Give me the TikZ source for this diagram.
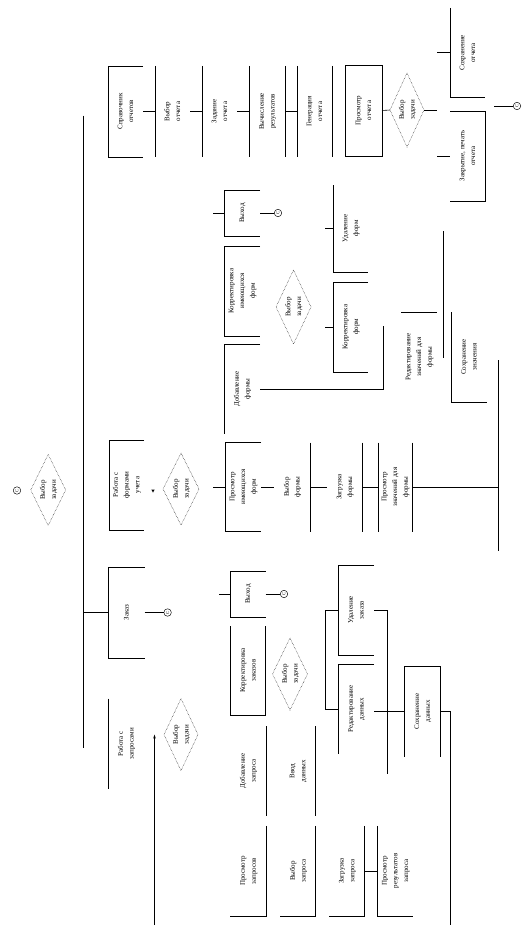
\documentclass[tikz,border=0pt]{standalone}
\usepackage{fontspec}
\setmainfont{Liberation Serif}
\usetikzlibrary{arrows.meta}
\newcommand\vt[1]{\rotatebox{90}{\begin{tabular}{@{}c@{}}#1\end{tabular}}}
\newcommand\fsz{\fontsize{7}{10.8}\selectfont}
\begin{document}
\begin{tikzpicture}[x=1pt, y=-1pt, line width=0.6pt,
  cell/.style 2 args={inner sep=0pt, outer sep=0pt, minimum width=#1pt, minimum height=#2pt, font=\fsz},
  dia/.style={densely dotted, line width=0.45pt},
  circ/.style={draw, circle, inner sep=0pt, minimum size=7.5pt, line width=0.45pt, font=\fontsize{4.5}{5}\selectfont}]
\fill[white] (0,0) rectangle (530,931);
\useasboundingbox (0,0) rectangle (530,931);

% trunk
\coordinate (tA) at (83,115.7);
\coordinate (tB) at (83,747.6);
\draw (tA) -- (tB);

% ---------------- top row: reports
\node[cell={35}{91}] (r1) at (125.5,111.5) {\vt{Справочник\\отчетов}};
\draw (r1.north east) -- (r1.north west) -- (r1.south west) -- (r1.south east);
\node[cell={35}{91}] (r2) at (172.5,111.5) {\vt{Выбор\\отчета}};
\draw (r2.north west) -- (r2.south west);
\draw (r1.east) -- (r2.west);
\node[cell={35}{91}] (r3) at (219.5,111.5) {\vt{Задание\\отчета}};
\draw (r3.north west) -- (r3.south west);
\draw (r2.east) -- (r3.west);
\node[cell={36}{91}] (r4) at (267,111.5) {\vt{Вычисление\\результатов}};
\draw (r4.north west) -- (r4.south west);
\draw (r4.north east) -- (r4.south east);
\draw (r3.east) -- (r4.west);
\node[cell={35}{91}] (r5) at (314.5,111.5) {\vt{Генерация\\отчета}};
\draw (r5.north west) -- (r5.south west);
\draw (r5.north east) -- (r5.south east);
\draw (r4.east) -- (r5.west);
\node[cell={37}{91}, draw] (r6) at (363.5,110.5) {\vt{Просмотр\\отчета}};
\node[cell={34}{74}] (d1) at (407,110) {\vt{Выбор\\задачи}};
\draw[dia] (d1.north) -- (d1.east) -- (d1.south) -- (d1.west) -- cycle;
\draw (r6.east) -- (d1.west);
\coordinate (j1) at (437,110);
\draw (d1.east) -- (j1);
\node[cell={35}{89.5}] (r7) at (467.5,52.75) {\vt{Сохранение\\отчета}};
\draw (r7.north west) -- (r7.south west) -- (r7.south east);
\draw (j1 |- r7.west) -- (r7.west);
\node[cell={35}{90}] (r8) at (467.5,156) {\vt{Закрытие, печать\\отчета}};
\draw (r8.north west) -- (r8.north east) -- (r8.south east) -- (r8.south west);
\draw (j1 |- r8.west) -- (r8.west);
\node[circ] (o1) at (517,106) {\rotatebox{90}{С}};
\coordinate (j3) at (494,106);
\draw (j3) -- (o1);

% ---------------- forms editing block
\node[cell={36}{46}] (x1) at (242,213) {\vt{Выход}};
\draw (x1.north east) -- (x1.north west) -- (x1.south west) -- (x1.south east);
\coordinate (k0) at (213,213);
\draw (k0) -- (x1.west);
\node[circ] (o2) at (278,213) {\rotatebox{90}{С}};
\draw (x1.east) -- (o2);
\node[cell={36}{90}] (x2) at (242,291) {\vt{Корректировка\\имеющихся\\форм}};
\draw (x2.north east) -- (x2.north west) -- (x2.south west) -- (x2.south east);
\node[cell={35}{74}] (d2) at (293.5,307) {\vt{Выбор\\задачи}};
\draw[dia] (d2.north) -- (d2.east) -- (d2.south) -- (d2.west) -- cycle;
\node[cell={36}{90}] (x3) at (242,389) {\vt{Добавление\\формы}};
\draw (x3.north east) -- (x3.north west) -- (x3.south west);
\coordinate (k1) at (383,326);
\draw (x3.east) -| (k1);
\node[cell={35}{87}] (x4) at (350.5,228.5) {\vt{Удаление\\форм}};
\draw (x4.north west) -- (x4.south west) -- (x4.south east);
\coordinate (k2) at (325,228.5);
\draw (k2) -- (x4.west);
\node[cell={35}{90}] (x5) at (350.5,327) {\vt{Корректировка\\форм}};
\draw (x5.north east) -- (x5.north west) -- (x5.south west) -- (x5.south east);
\coordinate (k3) at (325,327);
\draw (k3) -- (x5.west);
\node[cell={36}{90}] (x6) at (419,357) {\vt{Редактирование\\значений для\\формы}};
\draw (x6.north west) -- (x6.north east);
\coordinate (k4) at (443,231);
\coordinate (k5) at (443,358);
\draw (k4) -- (k5);
\node[cell={36}{90}] (x7) at (469,357) {\vt{Сохранение\\значения}};
\draw (x7.north west) -- (x7.south west) -- (x7.south east);
\coordinate (k6) at (498,360);
\coordinate (k7) at (498,551);
\draw (k6) -- (k7);

% ---------------- forms row
\node[cell={35}{90}] (m1) at (126.5,485) {\vt{Работа с\\формами\\учета}};
\draw (m1.north east) -- (m1.north west) -- (m1.south west) -- (m1.south east);
\fill (151.3,489.5) -- (154.7,489.5) -- (153,492.5) -- cycle;
\node[cell={36}{72}] (d3) at (181,489) {\vt{Выбор\\задачи}};
\draw[dia] (d3.north) -- (d3.east) -- (d3.south) -- (d3.west) -- cycle;
\node[cell={36}{89}] (m2) at (243,487) {\vt{Просмотр\\имеющихся\\форм}};
\draw (m2.north east) -- (m2.north west) -- (m2.south west) -- (m2.south east);
\coordinate (k8) at (213,487);
\draw (k8) -- (m2.west);
\node[cell={36}{89}] (m3) at (292,487) {\vt{Выбор\\формы}};
\draw (m3.north east) -- (m3.south east);
\coordinate (k9) at (274,487);
\draw (m2.east) -- (k9);
\node[cell={35}{89}] (m4) at (344.5,487) {\vt{Загрузка\\формы}};
\draw (m4.north east) -- (m4.south east);
\coordinate (k10) at (327,487);
\draw (m3.east) -- (k10);
\node[cell={34}{89}] (m5) at (395,487) {\vt{Просмотр\\значений для\\формы}};
\draw (m5.north west) -- (m5.south west);
\draw (m5.north east) -- (m5.south east);
\draw (m4.east) -- (m5.west);
\draw (m5.east) -- (k7 |- m5.east);

% ---------------- top-level diamond
\node[cell={35}{71}] (d0) at (48.2,490) {\vt{Выбор\\задачи}};
\draw[dia] (d0.north) -- (d0.east) -- (d0.south) -- (d0.west) -- cycle;
\node[circ] (o0) at (17,490.5) {\rotatebox{90}{С}};

% ---------------- orders row
\node[cell={36}{91}] (z1) at (126.5,612.5) {\vt{Заказ}};
\draw (z1.north east) -- (z1.north west) -- (z1.south west) -- (z1.south east);
\draw (tA |- z1.west) -- (z1.west);
\node[circ] (o3) at (167.6,612.5) {\rotatebox{90}{С}};
\draw (z1.east) -- (o3);
\node[cell={35.5}{46}] (z2) at (247.75,594) {\vt{Выход}};
\draw (z2.north east) -- (z2.north west) -- (z2.south west) -- (z2.south east);
\coordinate (p0) at (219,594);
\draw (p0) -- (z2.west);
\node[circ] (o4) at (284,594) {\rotatebox{90}{С}};
\draw (z2.east) -- (o4);
\node[cell={35.5}{89}] (z3) at (248,670.5) {\vt{Корректировка\\заказов}};
\draw (z3.north west) -- (z3.south west) -- (z3.south east) -- (z3.north east);
\node[cell={35}{72}] (d4) at (290,674) {\vt{Выбор\\задачи}};
\draw[dia] (d4.north) -- (d4.east) -- (d4.south) -- (d4.west) -- cycle;
\node[cell={36}{90}] (z4) at (356,610) {\vt{Удаление\\заказа}};
\draw (z4.north east) -- (z4.north west) -- (z4.south west) -- (z4.south east);
\node[cell={36}{90}] (z5) at (356,709) {\vt{Редактирование\\данных}};
\draw (z5.north east) -- (z5.north west) -- (z5.south west);
\draw (z4.west) -- ++(-13,0) |- (z5.west);
\coordinate (p1) at (387,773.5);
\draw (z4.east) -| (p1);
\node[cell={36.7}{90.7}] (z6) at (422.35,711.35) {\vt{Сохранение\\данных}};
\draw (z6.south west) -- (z6.north west) -- (z6.north east) -- (z6.south east);
\draw (z5.east |- z6.west) -- (z6.west);
\coordinate (p2) at (450,925);
\draw (z6.east) -| (p2);

% ---------------- queries
\node[cell={36}{90}] (q1) at (126,743.7) {\vt{Работа с\\запросами}};
\draw (q1.north west) -- (q1.south west);
\node[cell={34}{72}] (d5) at (181,734.6) {\vt{Выбор\\задачи}};
\draw[dia] (d5.north) -- (d5.east) -- (d5.south) -- (d5.west) -- cycle;
\coordinate (a0) at (154.5,925);
\coordinate (a1) at (154.5,734.6);
\draw[-{Stealth[length=4pt,width=2.5pt]}] (a0) -- (a1);
\node[cell={36}{90}] (q2) at (248,771) {\vt{Добавление\\запроса}};
\draw (q2.north east) -- (q2.south east);
\node[cell={36}{90}] (q3) at (297.7,771) {\vt{Ввод\\данных}};
\draw (q3.north east) -- (q3.south east);
\node[cell={35.6}{90.4}] (q4) at (248.2,871) {\vt{Просмотр\\запросов}};
\draw (q4.north east) -- (q4.south east) -- (q4.south west);
\node[cell={35.4}{90.4}] (q5) at (298,871) {\vt{Выбор\\запроса}};
\draw (q5.north east) -- (q5.south east) -- (q5.south west);
\node[cell={35.6}{90.4}] (q6) at (346.8,871) {\vt{Загрузка\\запроса}};
\draw (q6.north east) -- (q6.south east) -- (q6.south west);
\node[cell={35.5}{90.4}] (q7) at (395.2,871) {\vt{Просмотр\\результатов\\запроса}};
\draw (q7.north west) -- (q7.south west) -- (q7.south east);
\draw (q6.east) -- (q7.west);
\end{tikzpicture}
\end{document}
